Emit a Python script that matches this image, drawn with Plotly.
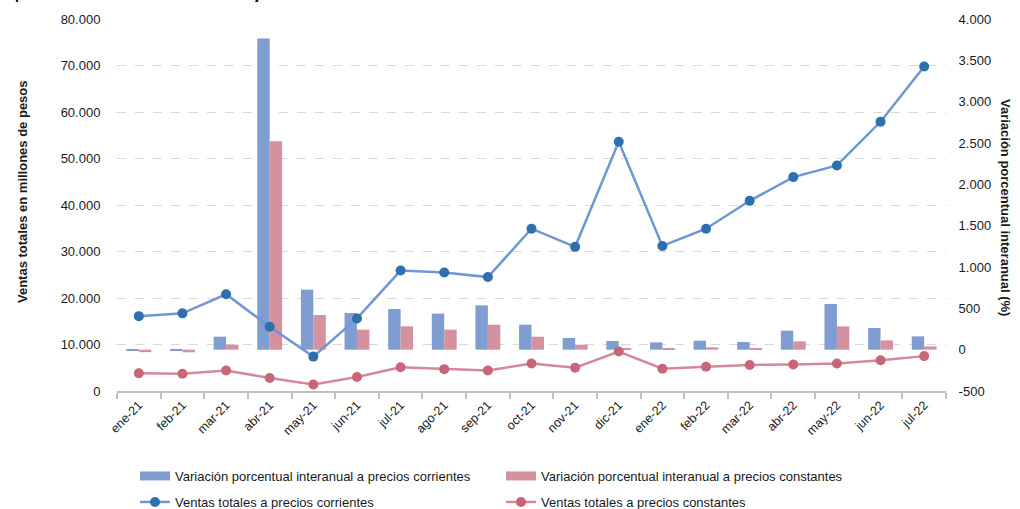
import plotly.graph_objects as go

months = ["ene-21", "feb-21", "mar-21", "abr-21", "may-21", "jun-21", "jul-21", "ago-21",
          "sep-21", "oct-21", "nov-21", "dic-21", "ene-22", "feb-22", "mar-22", "abr-22",
          "may-22", "jun-22", "jul-22"]
ventas_corrientes = [16100, 16700, 20800, 13800, 7400, 15600, 25900, 25500, 24500, 34900,
                     31000, 53600, 31200, 34900, 40900, 46000, 48500, 57900, 69800]
ventas_constantes = [3800, 3700, 4400, 2800, 1400, 3000, 5100, 4700, 4400, 5900,
                     5000, 8500, 4800, 5200, 5600, 5700, 5900, 6600, 7500]
var_corrientes = [-6, -6, 157, 3763, 726, 444, 492, 436, 536, 302,
                  141, 105, 88, 109, 93, 230, 553, 262, 161]
var_constantes = [-30, -32, 60, 2520, 420, 242, 282, 242, 302, 157,
                  60, 20, 15, 28, 20, 100, 282, 112, 40]

left_tickvals = [0, 10000, 20000, 30000, 40000, 50000, 60000, 70000, 80000]
left_ticktext = ["0", "10.000", "20.000", "30.000", "40.000", "50.000", "60.000", "70.000", "80.000"]
right_tickvals = [-500, 0, 500, 1000, 1500, 2000, 2500, 3000, 3500, 4000]
right_ticktext = ["-500", "0", "500", "1.000", "1.500", "2.000", "2.500", "3.000", "3.500", "4.000"]

name_vc = "Variación porcentual interanual a precios corrientes"
name_vk = "Variación porcentual interanual a precios constantes"
name_tc = "Ventas totales a precios corrientes"
name_tk = "Ventas totales a precios constantes"

BAR_BLUE = "#7f9dd0"
BAR_RED = "#d4919e"
LINE_BLUE = "#7096d4"
MARK_BLUE = "#2e6fae"
LINE_RED = "#d4899a"
MARK_RED = "#c86677"

W, H = 1020, 509
L, R, T, B = 117, 74, 19, 118

fig = go.Figure()

# Bars on primary axis (right side)
fig.add_trace(go.Bar(x=months, y=var_corrientes, name=name_vc, marker_color=BAR_BLUE,
                     marker_line_width=0, yaxis="y", showlegend=False))
fig.add_trace(go.Bar(x=months, y=var_constantes, name=name_vk, marker_color=BAR_RED,
                     marker_line_width=0, yaxis="y", showlegend=False))

# Lines on overlaying axis (left side), drawn on top
fig.add_trace(go.Scatter(x=months, y=ventas_corrientes, name=name_tc, mode="lines+markers",
                         line=dict(color=LINE_BLUE, width=2.5),
                         marker=dict(color=MARK_BLUE, size=10), yaxis="y2", legend="legend2"))
fig.add_trace(go.Scatter(x=months, y=ventas_constantes, name=name_tk, mode="lines+markers",
                         line=dict(color=LINE_RED, width=2.5),
                         marker=dict(color=MARK_RED, size=10), yaxis="y2", legend="legend2"))

# Legend entries for the bars (wide rectangle swatches)
fig.add_trace(go.Scatter(x=[None], y=[None], name=name_vc, mode="lines",
                         line=dict(color=BAR_BLUE, width=9), yaxis="y", legend="legend"))
fig.add_trace(go.Scatter(x=[None], y=[None], name=name_vk, mode="lines",
                         line=dict(color=BAR_RED, width=9), yaxis="y", legend="legend"))

FONT = "Liberation Sans, Arial, sans-serif"

fig.update_layout(
    width=W, height=H,
    margin=dict(l=L, r=R, t=T, b=B, autoexpand=False),
    paper_bgcolor="white", plot_bgcolor="white",
    font=dict(family=FONT, size=13, color="#1a1a1a"),
    barmode="group", bargap=0.43, bargroupgap=0,
    xaxis=dict(
        type="category", tickangle=-45, tickfont=dict(size=12.5),
        showline=True, linecolor="#c0c0c0", linewidth=2,
        ticks="outside", tickson="boundaries", ticklen=6, tickcolor="#c0c0c0", tickwidth=1.5,
        showgrid=False, zeroline=False,
        range=[-0.5, len(months) - 0.5],
    ),
    yaxis=dict(
        side="right", range=[-500, 4000], tickvals=right_tickvals, ticktext=right_ticktext,
        showgrid=False, zeroline=False, showline=False,
        ticks="outside", ticklen=9, tickcolor="rgba(0,0,0,0)",
        tickfont=dict(size=13),
    ),
    yaxis2=dict(
        overlaying="y", side="left", range=[0, 80000],
        tickvals=left_tickvals, ticktext=left_ticktext,
        showgrid=True, gridcolor="#d9d9d9", griddash="dash", gridwidth=1,
        zeroline=False, showline=False,
        ticks="outside", ticklen=13, tickcolor="rgba(0,0,0,0)",
        tickfont=dict(size=13),
    ),
    legend=dict(orientation="h", xref="container", yref="container",
                x=135 / W, xanchor="left", y=1 - 461 / H, yanchor="top",
                entrywidth=321, entrywidthmode="pixels",
                font=dict(size=13), bgcolor="rgba(0,0,0,0)", itemclick=False),
    legend2=dict(orientation="h", xref="container", yref="container",
                 x=135 / W, xanchor="left", y=1 - 487 / H, yanchor="top",
                 entrywidth=321, entrywidthmode="pixels",
                 font=dict(size=13), bgcolor="rgba(0,0,0,0)", itemclick=False),
    annotations=[
        dict(text="<b>Ventas totales en millones de pesos</b>", textangle=-90,
             xref="paper", yref="paper", x=(22 - L) / (W - L - R), y=(H - B - 192) / (H - T - B),
             xanchor="center", yanchor="middle", showarrow=False, font=dict(size=13)),
        dict(text="<b>Variación porcentual interanual (%)</b>", textangle=90,
             xref="paper", yref="paper", x=(1006 - L) / (W - L - R), y=(H - B - 207) / (H - T - B),
             xanchor="center", yanchor="middle", showarrow=False, font=dict(size=13)),
        dict(text="<b>porcentual interanual. Enero 2021 a julio 2022</b>",
             xref="paper", yref="paper", x=(13 - L) / (W - L - R), y=1,
             xanchor="left", yanchor="bottom", yshift=15, showarrow=False,
             font=dict(size=14, color="#000000")),
    ],
)

fig.write_html("out.html", config={"displayModeBar": False},
               post_script="document.body.style.margin='0';document.body.style.overflow='hidden';")
